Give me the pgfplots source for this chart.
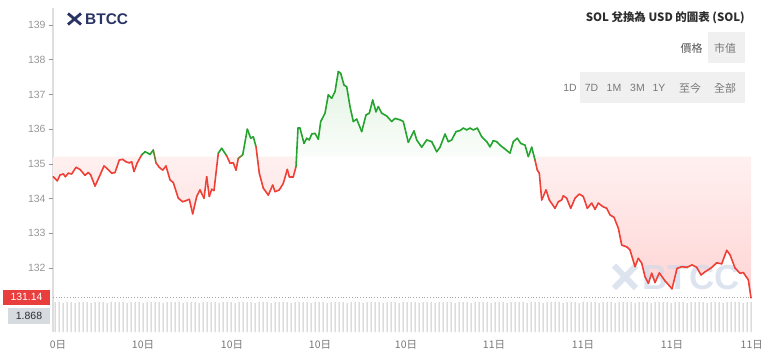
\documentclass[border=0pt]{standalone}
\usepackage{pgfplots}
\pgfplotsset{compat=1.18}
\usepackage{pgfplotstable}
\usepackage{fontspec}
\setmainfont{Liberation Sans}
\newfontfamily\cjk{Noto Sans CJK TC}
\definecolor{lineRed}{RGB}{238,64,54}
\definecolor{lineGreen}{RGB}{36,164,46}
\definecolor{fillRedTop}{RGB}{255,240,240}
\definecolor{fillRedBot}{RGB}{255,212,212}
\definecolor{fillGreenTop}{RGB}{226,243,226}
\definecolor{fillGreenBot}{RGB}{250,253,250}
\definecolor{axgray}{RGB}{222,222,222}
\definecolor{tickgray}{RGB}{150,150,150}
\definecolor{labgray}{RGB}{120,120,120}
\definecolor{volgray}{RGB}{200,200,200}
\definecolor{navy}{RGB}{42,52,100}
\definecolor{wm}{RGB}{208,217,232}
\definecolor{boxRed}{RGB}{232,62,62}
\definecolor{boxGray}{RGB}{214,219,224}
\definecolor{btngray}{RGB}{240,240,240}
\definecolor{titlecol}{RGB}{45,45,45}

\pgfplotstableread{
x y
53.3 134.63
57.3 134.51
60 134.68
63.3 134.71
65.3 134.63
68.3 134.73
71.7 134.71
76 134.90
80 134.84
85 134.67
88.3 134.75
90.7 134.68
95 134.36
99.3 134.63
104 134.94
107.3 134.86
111.7 134.73
115 134.75
119.3 135.11
122.7 135.13
126 135.06
129.3 135.03
131.7 135.06
134 134.78
137.3 135.03
141.7 135.26
145 135.35
147.3 135.32
150 135.27
153.3 135.40
156 135.03
159.3 134.90
162.7 134.82
166 134.94
170 134.54
173.3 134.46
178.3 134.01
182.7 133.91
186 133.94
189.3 133.98
192.7 133.56
196.7 134.06
200 134.25
204 134.01
206.7 134.63
209.3 134.06
211.7 134.27
214 134.23
218.3 135.31
221.7 135.45
226.7 135.23
230 135.02
233.3 135.03
236 134.82
238.3 135.16
242.7 135.26
247.3 136.00
250.7 135.74
253.3 135.78
256 135.50
259.3 134.73
263.3 134.30
268.3 134.10
272.7 134.39
275 134.20
279.3 134.25
283.3 134.44
287.3 134.84
289.3 134.63
293.3 134.63
296 134.92
298 136.03
300 136.03
304 135.59
306.7 135.74
309.3 135.69
311.7 135.86
315 135.88
318.3 135.71
320.7 136.22
325 136.46
328.3 136.99
331.7 136.89
335 137.08
338.3 137.66
340.7 137.61
344 137.27
346.7 137.22
350 136.65
353.3 136.22
356.7 136.29
361.7 135.93
366 136.41
369.3 136.46
372.7 136.84
376 136.50
378.3 136.65
381.7 136.46
386.7 136.38
391.7 136.22
395 136.31
400 136.27
403.3 136.22
408.3 135.62
411 135.78
414 135.95
416.7 135.69
421.7 135.48
426.7 135.69
431.7 135.64
436.7 135.35
440 135.48
445 135.86
448.3 135.64
451.7 135.69
456 135.93
460 135.96
463.3 136.03
466.7 135.98
470 136.03
473.3 135.98
477.3 136.03
481.7 135.78
486.7 135.64
490 135.49
493.3 135.67
496.7 135.64
500 135.54
504 135.45
510 135.31
513.3 135.64
517.3 135.74
520.7 135.59
525 135.54
528.3 135.21
531.7 135.48
535 135.11
537.3 134.82
539.3 134.73
541.7 133.96
546 134.25
549.3 133.96
555 133.72
558.3 133.91
561.7 133.96
563.3 134.08
566.7 134.01
570.7 133.72
575 134.01
579.3 134.13
583.3 134.06
587.3 133.72
591.7 133.87
595 133.69
598.3 133.87
602.7 133.77
606.7 133.72
610 133.53
614 133.46
618.3 133.15
621.7 132.66
626.7 132.61
630 132.52
635 132.04
638.3 132.28
641.7 132.14
645 131.75
648.3 131.56
651.7 131.85
655 131.58
659.3 131.86
665 131.63
672 131.40
677 131.99
682 132.04
687 132.02
692 132.09
696.7 132.02
701 131.80
705 131.89
711 132.00
716.7 132.15
721.7 132.12
726.7 132.51
730 132.38
735 132.00
740 131.85
743.3 131.87
748.3 131.66
751 131.14
}\price

\begin{document}
\begin{tikzpicture}[x=1bp,y=1bp]
\useasboundingbox (0,0) rectangle (765,360);

% header
\fill[white] (672,297) rectangle (708,328);
\fill[btngray] (708,297) rectangle (745,328);
\fill[btngray] (580,257) rectangle (745,288);
\node[font=\cjk\fontsize{11}{13}\selectfont, text=titlecol!80] at (691.5,312) {價格};
\node[font=\cjk\fontsize{11}{13}\selectfont, text=labgray] at (725,312) {市值};
\foreach \lab/\px in {1D/570,7D/591.5,1M/614,3M/637.5,1Y/659}
  \node[font=\fontsize{10.5}{12}\selectfont, text=labgray] at (\px,272) {\lab};
\node[font=\cjk\fontsize{11}{13}\selectfont, text=labgray] at (690,272) {至今};
\node[font=\cjk\fontsize{11}{13}\selectfont, text=labgray] at (725,272) {全部};
\node[anchor=east, font=\cjk\bfseries\fontsize{11.5}{13}\selectfont, text=titlecol, inner sep=0] at (745,342) {SOL 兌換為 USD 的圖表 (SOL)};
% logo
\draw[navy, line width=2.8bp] (68,335.5) -- (81,346.5) (68,346.5) -- (81,335.5);
\node[anchor=west, font=\bfseries\fontsize{15.5}{16}\selectfont, text=navy, inner sep=0] at (85,341) {BTCC};

% left axis line
\draw[axgray, line width=1.6bp] (53,28) -- (53,352);

\begin{axis}[at={(53bp,61bp)}, anchor=south west, scale only axis,
  width=699bp, height=291bp,
  xmin=53, xmax=752, ymin=131.108, ymax=139.49,
  axis line style={draw=none}, xtick=\empty,
  ytick={132,133,134,135,136,137,138,139}, ytick pos=left,
  tick align=outside, major tick length=4bp,
  tick style={tickgray, line width=0.6bp},
  yticklabel style={font=\fontsize{10.5}{12}\selectfont, text=tickgray},
  /pgf/number format/assume math mode=true,
  clip=false]
\addplot[draw=none, top color=fillRedTop, bottom color=fillRedBot, forget plot]
  table[x=x, y expr={min(\thisrow{y},135.21)}] {\price}
  -- (axis cs:751,135.21) -- (axis cs:53.3,135.21) -- cycle;
\addplot[draw=none, top color=fillGreenTop, bottom color=fillGreenBot, forget plot]
  table[x=x, y expr={max(\thisrow{y},135.21)}] {\price}
  -- (axis cs:751,135.21) -- (axis cs:53.3,135.21) -- cycle;
% watermark
\draw[wm, line width=6bp, opacity=0.7] (axis cs:614,132.07) -- (axis cs:636,131.42) (axis cs:614,131.42) -- (axis cs:636,132.07);
\node[font=\bfseries\fontsize{35}{36}\selectfont, text=wm, opacity=0.7, inner sep=0] at (axis cs:691,131.74) {BTCC};
% current price line
\addplot[dotted, gray!70, line width=0.8bp] coordinates {(53,131.14) (752,131.14)};
% price line
\addplot[mesh, line width=1.6bp, line cap=round, line join=round, point meta=\thisrow{y},
  point meta min=134.7, point meta max=135.7,
  colormap={rg}{color=(lineRed) color=(lineRed) color=(lineRed) color=(lineRed) color=(lineRed) color=(lineGreen) color=(lineGreen) color=(lineGreen) color=(lineGreen) color=(lineGreen)}]
  table[x=x, y=y] {\price};
\end{axis}

\begin{axis}[at={(53bp,28bp)}, anchor=south west, scale only axis,
  width=699bp, height=33bp,
  xmin=53, xmax=752, ymin=0, ymax=33,
  axis line style={draw=none}, ytick=\empty,
  xtick={143,232,320,406,494,583,672},
  xticklabels={10日,10日,10日,10日,11日,11日,11日},
  major tick length=0pt,
  xticklabel style={font=\cjk\fontsize{10.5}{12}\selectfont, text=labgray, anchor=center, yshift=-13bp},
  clip=false]
\addplot[ybar, bar width=1bp, fill=volgray, draw=none] coordinates {
(55,30)(59,30)(63,29)(67,30)(71,30)(75,29)(79,30)(83,30)(87,30)(91,29)(95,30)(99,30)(103,30)(107,29)(111,30)(115,30)(119,30)(123,30)(127,29)(131,30)(135,30)(139,30)(143,29)(147,30)(151,30)(155,30)(159,30)(163,29)(167,30)(171,30)(175,30)(179,30)(183,29)(187,30)(191,30)(195,30)(199,29)(203,30)(207,30)(211,30)(215,30)(219,29)(223,30)(227,30)(231,30)(235,29)(239,30)(243,30)(247,30)(251,30)(255,29)(259,30)(263,30)(267,30)(271,29)(275,30)(279,30)(283,30)(287,30)(291,29)(295,30)(299,30)(303,30)(307,30)(311,29)(315,30)(319,30)(323,30)(327,29)(331,30)(335,30)(339,30)(343,30)(347,29)(351,30)(355,30)(359,30)(363,29)(367,30)(371,30)(375,30)(379,30)(383,29)(387,30)(391,30)(395,30)(399,29)(403,30)(407,30)(411,30)(415,30)(419,29)(423,30)(427,30)(431,30)(435,29)(439,30)(443,30)(447,30)(451,30)(455,29)(459,30)(463,30)(467,30)(471,29)(475,30)(479,30)(483,30)(487,30)(491,29)(495,30)(499,30)(503,30)(507,29)(511,30)(515,30)(519,30)(523,30)(527,29)(531,30)(535,30)(539,30)(543,29)(547,30)(551,30)(555,30)(559,30)(563,29)(567,30)(571,30)(575,30)(579,29)(583,30)(587,30)(591,30)(595,30)(599,29)(603,30)(607,30)(611,30)(615,29)(619,30)(623,30)(627,30)(631,30)(635,29)(639,30)(643,30)(647,30)(651,29)(655,30)(659,30)(663,30)(667,30)(671,29)(675,30)(679,30)(683,30)(687,29)(691,30)(695,30)(699,30)(703,30)(707,29)(711,30)(715,30)(719,30)(723,29)(727,30)(731,30)(735,30)(739,30)(743,29)(747,30)(751,30)};
\end{axis}

% tick labels at the edges
\node[font=\cjk\fontsize{10.5}{12}\selectfont, text=labgray] at (58,15) {0日};
\node[font=\cjk\fontsize{10.5}{12}\selectfont, text=labgray, anchor=east, inner sep=1bp] at (764,15) {11日};

% value boxes
\node[fill=boxRed, text=white, font=\fontsize{10.5}{12}\selectfont, minimum width=47bp, minimum height=15bp, inner sep=0] at (26.5,63) {131.14};
\node[fill=boxGray, text=titlecol, font=\fontsize{10.5}{12}\selectfont, minimum width=42bp, minimum height=16bp, inner sep=0] at (29,44) {1.868};
\end{tikzpicture}
\end{document}
